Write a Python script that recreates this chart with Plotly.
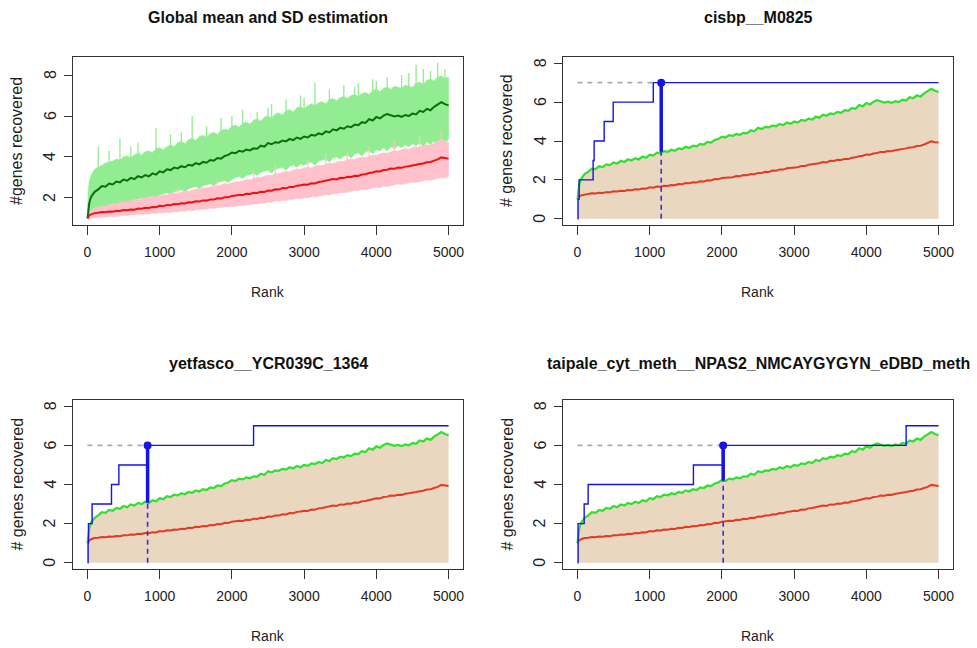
import plotly.graph_objects as go

# ---------------- data ----------------
rank = [1, 10, 25] + list(range(50, 5001, 50))

green_mean = [1.00, 1.40, 1.75, 2.05, 2.30, 2.42, 2.58, 2.55, 2.70, 2.66, 2.80, 2.76, 2.90, 2.84, 2.98, 2.92,
              3.06, 3.00, 3.12, 3.05, 3.20, 3.14, 3.30, 3.25, 3.40, 3.36, 3.48, 3.44, 3.55, 3.50, 3.62, 3.58,
              3.70, 3.64, 3.76, 3.72, 3.85, 3.82, 3.95, 3.92, 4.05, 4.10, 4.22, 4.18, 4.30, 4.26, 4.36, 4.32,
              4.42, 4.40, 4.55, 4.50, 4.68, 4.62, 4.72, 4.70, 4.80, 4.76, 4.88, 4.82, 4.95, 4.88, 5.00, 4.95,
              5.08, 5.04, 5.15, 5.10, 5.25, 5.20, 5.35, 5.30, 5.42, 5.38, 5.50, 5.45, 5.58, 5.55, 5.70, 5.66,
              5.85, 5.78, 5.95, 5.88, 6.02, 6.10, 6.05, 5.98, 6.02, 5.96, 6.05, 6.00, 6.12, 6.08, 6.25, 6.20,
              6.35, 6.28, 6.45, 6.55, 6.68, 6.58, 6.52]

red_mean = [1.00, 1.08, 1.15, 1.20, 1.26, 1.28, 1.31, 1.30, 1.34, 1.33, 1.37, 1.36, 1.41, 1.40, 1.44, 1.43,
            1.48, 1.47, 1.52, 1.51, 1.56, 1.55, 1.62, 1.60, 1.66, 1.65, 1.70, 1.69, 1.74, 1.73, 1.79, 1.78,
            1.84, 1.83, 1.88, 1.87, 1.93, 1.92, 1.98, 1.97, 2.04, 2.03, 2.10, 2.12, 2.15, 2.14, 2.20, 2.19,
            2.25, 2.24, 2.30, 2.29, 2.36, 2.35, 2.42, 2.41, 2.48, 2.47, 2.54, 2.53, 2.60, 2.62, 2.66, 2.65,
            2.72, 2.71, 2.78, 2.80, 2.84, 2.86, 2.92, 2.90, 2.98, 2.97, 3.03, 3.02, 3.08, 3.07, 3.14, 3.16,
            3.22, 3.24, 3.30, 3.29, 3.36, 3.38, 3.44, 3.43, 3.48, 3.47, 3.53, 3.55, 3.60, 3.62, 3.66, 3.68,
            3.74, 3.76, 3.82, 3.88, 3.98, 3.94, 3.92]

# dense part of the per-rank spread (upper / lower edge)
green_hi = [1.3, 2.3, 2.8, 3.1, 3.4, 3.5, 3.6, 3.7, 3.75, 3.8, 3.9, 3.85, 4.0, 4.05, 3.95, 4.1,
            4.2, 4.1, 4.25, 4.3, 4.2, 4.4, 4.45, 4.35, 4.5, 4.6, 4.5, 4.7, 4.75, 4.65, 4.85, 4.9,
            4.8, 5.0, 5.05, 4.95, 5.15, 5.2, 5.1, 5.3, 5.35, 5.3, 5.5, 5.55, 5.45, 5.65, 5.7, 5.6,
            5.8, 5.85, 5.75, 5.95, 6.0, 5.9, 6.1, 6.15, 6.05, 6.25, 6.3, 6.2, 6.4, 6.45, 6.35, 6.5,
            6.6, 6.5, 6.65, 6.7, 6.6, 6.8, 6.85, 6.75, 6.9, 6.95, 6.85, 7.0, 7.05, 6.95, 7.1, 7.15,
            7.05, 7.25, 7.3, 7.2, 7.35, 7.4, 7.3, 7.45, 7.4, 7.35, 7.5, 7.45, 7.4, 7.6, 7.65, 7.55,
            7.75, 7.8, 7.7, 7.9, 7.95, 7.85, 7.9]

green_lo = [1.0, 1.05, 1.1, 1.2, 1.3, 1.4, 1.45, 1.5, 1.55, 1.6, 1.62, 1.7, 1.75, 1.8, 1.78, 1.9,
            1.95, 2.0, 1.95, 2.05, 2.1, 2.05, 2.15, 2.2, 2.25, 2.2, 2.3, 2.35, 2.4, 2.3, 2.45, 2.5,
            2.55, 2.45, 2.6, 2.65, 2.7, 2.6, 2.75, 2.8, 2.85, 2.75, 2.9, 3.0, 3.05, 2.95, 3.1, 3.15,
            3.2, 3.1, 3.25, 3.3, 3.35, 3.2, 3.4, 3.45, 3.5, 3.35, 3.55, 3.6, 3.5, 3.65, 3.6, 3.7,
            3.75, 3.6, 3.8, 3.85, 3.9, 3.75, 3.95, 4.0, 3.9, 4.05, 4.1, 3.95, 4.15, 4.2, 4.05, 4.25,
            4.3, 4.15, 4.35, 4.3, 4.45, 4.3, 4.5, 4.4, 4.55, 4.45, 4.6, 4.5, 4.65, 4.55, 4.7, 4.5,
            4.75, 4.6, 4.8, 4.3, 4.75, 4.6, 4.9]

# isolated high values sticking out of the green spread
green_spike_rank = [150, 300, 450, 600, 700, 950, 1150, 1300, 1450, 1650, 1850, 2000, 2150, 2350,
                    2500, 2550, 2750, 2950, 3000, 3150, 3350, 3550, 3700, 3750, 3950, 4000, 4150,
                    4350, 4450, 4550, 4650, 4750, 4850, 4950]
green_spike_top = [4.5, 4.3, 4.9, 4.5, 4.7, 5.4, 5.1, 5.2, 6.0, 5.5, 5.9, 6.0, 6.3, 6.2,
                   6.4, 6.6, 6.8, 7.0, 6.9, 7.6, 7.3, 7.5, 7.4, 7.6, 7.8, 7.7, 7.9,
                   8.0, 8.1, 8.5, 8.3, 8.2, 8.6, 8.3]

red_hi = [1.0, 1.2, 1.3, 1.4, 1.5, 1.55, 1.62, 1.6, 1.68, 1.72, 1.7, 1.78, 1.82, 1.8, 1.88, 1.92,
          1.9, 1.98, 2.02, 2.0, 2.08, 2.05, 2.12, 2.16, 2.14, 2.2, 2.24, 2.22, 2.3, 2.34, 2.32, 2.4,
          2.44, 2.42, 2.5, 2.48, 2.56, 2.6, 2.58, 2.66, 2.7, 2.68, 2.76, 2.8, 2.78, 2.86, 2.9, 2.88,
          2.97, 3.02, 3.0, 3.08, 3.12, 3.1, 3.2, 3.18, 3.26, 3.3, 3.28, 3.36, 3.42, 3.4, 3.48, 3.5,
          3.46, 3.56, 3.6, 3.58, 3.66, 3.7, 3.68, 3.76, 3.8, 3.78, 3.86, 3.9, 3.88, 3.96, 4.0, 3.98,
          4.06, 4.1, 4.08, 4.16, 4.2, 4.18, 4.26, 4.3, 4.28, 4.36, 4.4, 4.38, 4.46, 4.5, 4.48, 4.56,
          4.6, 4.58, 4.66, 4.75, 4.85, 4.78, 4.7]

red_lo = [1.0, 1.0, 1.0, 1.0, 1.02, 1.05, 1.06, 1.05, 1.08, 1.1, 1.09, 1.12, 1.15, 1.13, 1.17, 1.16,
          1.2, 1.19, 1.22, 1.21, 1.25, 1.24, 1.28, 1.27, 1.3, 1.29, 1.33, 1.32, 1.36, 1.35, 1.4, 1.38,
          1.43, 1.42, 1.46, 1.45, 1.5, 1.48, 1.53, 1.52, 1.57, 1.56, 1.6, 1.58, 1.64, 1.62, 1.67, 1.66,
          1.72, 1.7, 1.75, 1.74, 1.8, 1.78, 1.85, 1.83, 1.88, 1.87, 1.93, 1.92, 1.98, 1.96, 2.02, 2.0,
          2.06, 2.05, 2.1, 2.12, 2.16, 2.15, 2.22, 2.2, 2.26, 2.25, 2.3, 2.32, 2.36, 2.35, 2.42, 2.4,
          2.46, 2.48, 2.52, 2.5, 2.58, 2.56, 2.62, 2.64, 2.68, 2.66, 2.72, 2.74, 2.78, 2.76, 2.82, 2.84,
          2.88, 2.86, 2.92, 2.95, 3.0, 2.98, 3.05]

red_spike_rank = [1250, 1800, 2300, 2600, 3050, 3300, 3600, 3900, 4250, 4600, 4900]
red_spike_top = [2.5, 2.9, 3.4, 3.6, 3.9, 4.2, 4.3, 4.5, 4.8, 5.0, 5.3]

titles = ["Global mean and SD estimation", "cisbp__M0825",
          "yetfasco__YCR039C_1364", "taipale_cyt_meth__NPAS2_NMCAYGYGYN_eDBD_meth"]

# recovery curves (step ranks and gene counts) for the three motifs
rec_rank = [[1, 8, 23, 217, 231, 370, 495, 1050, 5000],
            [1, 9, 14, 64, 333, 435, 833, 2300, 5000],
            [1, 9, 93, 148, 1606, 2009, 4551, 5000]]
rec_val = [[0, 1, 2, 3, 4, 5, 6, 7, 7],
           [0, 1, 2, 3, 4, 5, 6, 7, 7],
           [0, 2, 3, 4, 5, 6, 7, 7]]
thr_rank = [1160, 833, 2018]
thr_val = [7, 6, 6]
thr_green = [3.44, 3.07, 4.20]

x_ticks = [0, 1000, 2000, 3000, 4000, 5000]
y_ticks_global = [2, 4, 6, 8]
y_ticks_motif = [0, 2, 4, 6, 8]

# ---------------- styling ----------------
W, H = 977, 648
FONT = "Liberation Sans, Arial, Helvetica, sans-serif"
BLUE = "#1414e6"
C_LIGHTGREEN = "#92ec92"
C_PINK = "#ffc2cc"
C_TAN = "#e9d7bf"

# panel boxes in pixels: (x0, x1, y0, y1) with y from top
boxes = [(73, 463, 57, 225), (563, 953, 57, 225),
         (73, 463, 400, 569), (563, 953, 400, 569)]

fig = go.Figure()

axis_common = dict(showgrid=False, zeroline=False, showline=True, mirror=True,
                   linecolor="#333333", linewidth=1.3, ticks="outside",
                   tickcolor="#333333", tickwidth=1.3)

layout_axes = {}
ann = []
for i, (x0, x1, y0, y1) in enumerate(boxes):
    n = "" if i == 0 else str(i + 1)
    layout_axes["xaxis" + n] = dict(axis_common, domain=[x0 / W, x1 / W],
                                    range=[-200, 5200], tickvals=x_ticks, ticklen=9,
                                    tickfont=dict(family=FONT, size=14, color="#222222"),
                                    ticklabelstandoff=5, anchor="y" + n)
    if i == 0:
        yr, yt = [0.68, 8.88], y_ticks_global
    else:
        yr, yt = [-0.32, 8.32], y_ticks_motif
    layout_axes["yaxis" + n] = dict(axis_common, domain=[1 - y1 / H, 1 - y0 / H],
                                    range=yr, tickvals=yt, ticklen=8,
                                    showticklabels=False, anchor="x" + n)
    # rotated y tick labels (R style, parallel to axis)
    for v in yt:
        ann.append(dict(text=str(v), x=(x0 - 23) / W, y=v, xref="paper", yref="y" + n,
                        showarrow=False, textangle=-90, xanchor="center", yanchor="middle",
                        font=dict(family=FONT, size=16, color="#222222")))


def band(lo, hi, color, xa, ya):
    fig.add_trace(go.Scatter(x=rank + rank[::-1], y=hi + lo[::-1], fill="toself",
                             fillcolor=color, line=dict(width=0.6, color=color),
                             mode="lines", hoverinfo="skip", xaxis=xa, yaxis=ya))


def spikes(sr, st, base, color, xa, ya):
    xs, ys = [], []
    for r, t in zip(sr, st):
        xs += [r, r, None]
        ys += [base[rank.index(r)], t, None]
    fig.add_trace(go.Scatter(x=xs, y=ys, mode="lines", line=dict(color=color, width=1.3),
                             hoverinfo="skip", xaxis=xa, yaxis=ya))


# panel 1: global mean and SD estimation
band(green_lo, green_hi, C_LIGHTGREEN, "x", "y")
spikes(green_spike_rank, green_spike_top, green_mean, C_LIGHTGREEN, "x", "y")
band(red_lo, red_hi, C_PINK, "x", "y")
spikes(red_spike_rank, red_spike_top, red_mean, C_PINK, "x", "y")
fig.add_trace(go.Scatter(x=rank, y=green_mean, mode="lines",
                         line=dict(color="#0a6e0a", width=2), xaxis="x", yaxis="y"))
fig.add_trace(go.Scatter(x=rank, y=red_mean, mode="lines",
                         line=dict(color="#ee1111", width=2), xaxis="x", yaxis="y"))

# panels 2-4
for k in range(3):
    n = str(k + 2)
    xa, ya = "x" + n, "y" + n
    fig.add_trace(go.Scatter(x=rank, y=green_mean, mode="lines", fill="tozeroy",
                             fillcolor=C_TAN, line=dict(width=0), xaxis=xa, yaxis=ya))
    fig.add_trace(go.Scatter(x=rank, y=red_mean, mode="lines",
                             line=dict(color="#e23b26", width=2), xaxis=xa, yaxis=ya))
    fig.add_trace(go.Scatter(x=rank, y=green_mean, mode="lines",
                             line=dict(color="#2fe02f", width=2.2), xaxis=xa, yaxis=ya))
    # grey dashed horizontal reference
    fig.add_trace(go.Scatter(x=[0, thr_rank[k]], y=[thr_val[k], thr_val[k]], mode="lines",
                             line=dict(color="#aaaaaa", width=1.6, dash="5px,5px"),
                             xaxis=xa, yaxis=ya))
    # recovery curve
    fig.add_trace(go.Scatter(x=rec_rank[k], y=rec_val[k], mode="lines", line_shape="hv",
                             line=dict(color=BLUE, width=1.4), xaxis=xa, yaxis=ya))
    # dashed vertical at threshold
    fig.add_trace(go.Scatter(x=[thr_rank[k], thr_rank[k]], y=[0, thr_green[k]], mode="lines",
                             line=dict(color="#3a2ee0", width=1.6, dash="5px,4px"),
                             xaxis=xa, yaxis=ya))
    # thick vertical from background to recovery
    fig.add_trace(go.Scatter(x=[thr_rank[k], thr_rank[k]], y=[thr_green[k], thr_val[k]],
                             mode="lines", line=dict(color=BLUE, width=3.5),
                             xaxis=xa, yaxis=ya))
    fig.add_trace(go.Scatter(x=[thr_rank[k]], y=[thr_val[k]], mode="markers",
                             marker=dict(color=BLUE, size=8), xaxis=xa, yaxis=ya))

# annotations: titles and axis labels
title_y = [17, 17, 363, 363]
rank_y = [292, 292, 636, 636]
ylab = ["#genes recovered", "# genes recovered", "# genes recovered", "# genes recovered"]
for i, (x0, x1, y0, y1) in enumerate(boxes):
    cx = (x0 + x1) / 2
    ann.append(dict(text="<b>" + titles[i] + "</b>", x=cx / W, y=1 - title_y[i] / H,
                    xref="paper", yref="paper", showarrow=False,
                    xanchor="center", yanchor="middle",
                    font=dict(family=FONT, size=16, color="#111111")))
    ann.append(dict(text="Rank", x=cx / W, y=1 - rank_y[i] / H,
                    xref="paper", yref="paper", showarrow=False,
                    xanchor="center", yanchor="middle",
                    font=dict(family=FONT, size=14, color="#222222")))
    ann.append(dict(text=ylab[i], x=(x0 - 56) / W, y=1 - ((y0 + y1) / 2) / H,
                    xref="paper", yref="paper", showarrow=False, textangle=-90,
                    xanchor="center", yanchor="middle",
                    font=dict(family=FONT, size=16, color="#222222")))

fig.update_layout(width=W, height=H, margin=dict(l=0, r=0, t=0, b=0),
                  paper_bgcolor="white", plot_bgcolor="white", showlegend=False,
                  annotations=ann, **layout_axes)

fig.write_html("out.html", config={"displayModeBar": False},
               post_script="document.body.style.margin='0';document.body.style.overflow='hidden';")
